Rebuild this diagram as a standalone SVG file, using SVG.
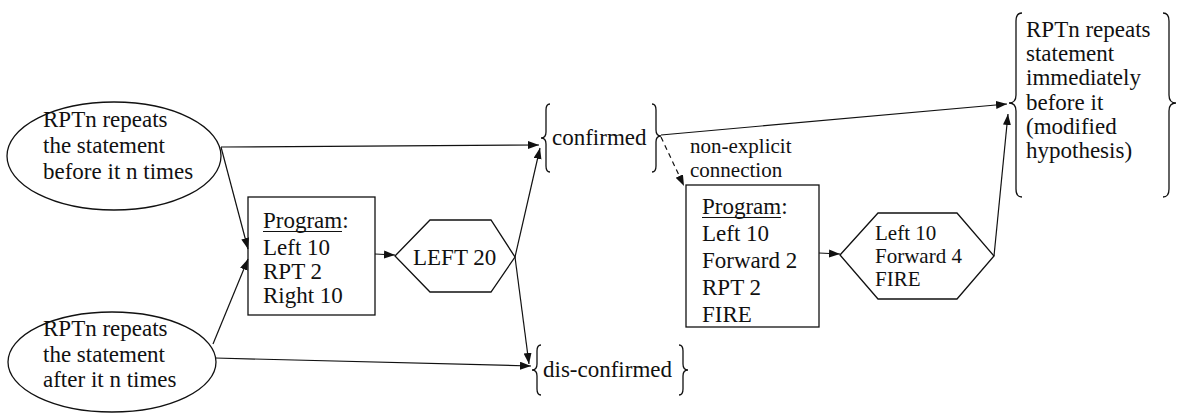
<svg xmlns="http://www.w3.org/2000/svg" width="1178" height="414" viewBox="0 0 1178 414" font-family="'Liberation Serif', 'Times New Roman', serif">
<defs>
<marker id="ah" markerUnits="userSpaceOnUse" markerWidth="12" markerHeight="9" refX="11" refY="4" orient="auto">
<path d="M0,0 L11,4 L0,8 z" fill="#111"/>
</marker>
<style>
text{font-family:'Liberation Serif','Times New Roman',serif;font-size:23px;fill:#111}
.sm{font-size:21px}
.sh{fill:#fff;stroke:#111;stroke-width:1.3}
.br{fill:none;stroke:#111;stroke-width:1.3}
.cn{fill:none;stroke:#111;stroke-width:1.2;marker-end:url(#ah)}
.dash{stroke-dasharray:5 4}
.ul{stroke:#111;stroke-width:1.2}
</style>
</defs>
<rect width="1178" height="414" fill="#fff"/>

<g id="ellipse-before">
<ellipse class="sh" cx="114" cy="156" rx="107" ry="54"/>
<text x="43" y="127">RPTn repeats</text>
<text x="43" y="153">the statement</text>
<text x="43" y="179">before it n times</text>
</g>

<g id="ellipse-after">
<ellipse class="sh" cx="112" cy="362" rx="104" ry="50"/>
<text x="43" y="336">RPTn repeats</text>
<text x="43" y="362">the statement</text>
<text x="43" y="387">after it n times</text>
</g>

<g id="program1">
<rect class="sh" x="248" y="197" width="127" height="118"/>
<text x="263" y="228">Program:</text>
<line class="ul" x1="263" y1="231.5" x2="342" y2="231.5"/>
<text x="263" y="255">Left 10</text>
<text x="263" y="279">RPT 2</text>
<text x="263" y="303">Right 10</text>
</g>

<g id="left20">
<polygon class="sh" points="395,256 430,220 491,220 515,257 491,292 430,292"/>
<text x="413" y="265">LEFT 20</text>
</g>

<g id="confirmed">
<path class="br" d="M550,104 Q546,104 546,110 L546,132 Q546,138 541,138 Q546,138 546,144 L546,166 Q546,172 550,172"/>
<text x="552" y="145">confirmed</text>
<path class="br" d="M652,104 Q656,104 656,110 L656,130 Q656,136 661,136 Q656,136 656,142 L656,166 Q656,172 652,172"/>
</g>

<g id="disconfirmed">
<path class="br" d="M541,345 Q537,345 537,351 L537,364 Q537,370 532,370 Q537,370 537,376 L537,389 Q537,395 541,395"/>
<text x="543" y="377">dis-confirmed</text>
<path class="br" d="M679,345 Q683,345 683,351 L683,364 Q683,370 688,370 Q683,370 683,376 L683,389 Q683,395 679,395"/>
</g>

<g id="note">
<text class="sm" x="690" y="153">non-explicit</text>
<text class="sm" x="690" y="177">connection</text>
</g>

<g id="program2">
<rect class="sh" x="686" y="185" width="133" height="142"/>
<text x="702" y="214">Program:</text>
<line class="ul" x1="702" y1="217.5" x2="781" y2="217.5"/>
<text x="702" y="241">Left 10</text>
<text x="702" y="268">Forward 2</text>
<text x="702" y="295">RPT 2</text>
<text x="702" y="322">FIRE</text>
</g>

<g id="hex2">
<polygon class="sh" points="840,255 878,213 957,213 994,256 957,299 878,299"/>
<text class="sm" x="875" y="240">Left 10</text>
<text class="sm" x="875" y="263">Forward 4</text>
<text class="sm" x="875" y="286">FIRE</text>
</g>

<g id="hypothesis">
<path class="br" d="M1022,13 Q1016,13 1016,21 L1016,95 Q1016,103 1009,103 Q1016,103 1016,111 L1016,189 Q1016,197 1022,197"/>
<text x="1026" y="37">RPTn repeats</text>
<text x="1026" y="61">statement</text>
<text x="1026" y="85">immediately</text>
<text x="1026" y="110">before it</text>
<text x="1026" y="134">(modified</text>
<text x="1026" y="158">hypothesis)</text>
<path class="br" d="M1163,13 Q1169,13 1169,21 L1169,95 Q1169,103 1176,103 Q1169,103 1169,111 L1169,189 Q1169,197 1163,197"/>
</g>

<g id="connectors">
<line class="cn" x1="221" y1="147" x2="539" y2="145"/>
<line class="cn" x1="221" y1="147" x2="248" y2="249"/>
<line class="cn" x1="213" y1="344" x2="248" y2="259"/>
<line class="cn" x1="215" y1="358" x2="531" y2="366"/>
<line class="cn" x1="375" y1="254" x2="395" y2="255"/>
<line class="cn" x1="515" y1="257" x2="540" y2="148"/>
<line class="cn" x1="515" y1="257" x2="529" y2="364"/>
<line class="cn dash" x1="661" y1="137" x2="684" y2="186"/>
<line class="cn" x1="819" y1="253" x2="840" y2="254"/>
<line class="cn" x1="661" y1="135" x2="1007" y2="104"/>
<line class="cn" x1="994" y1="256" x2="1008" y2="114"/>
</g>
</svg>
